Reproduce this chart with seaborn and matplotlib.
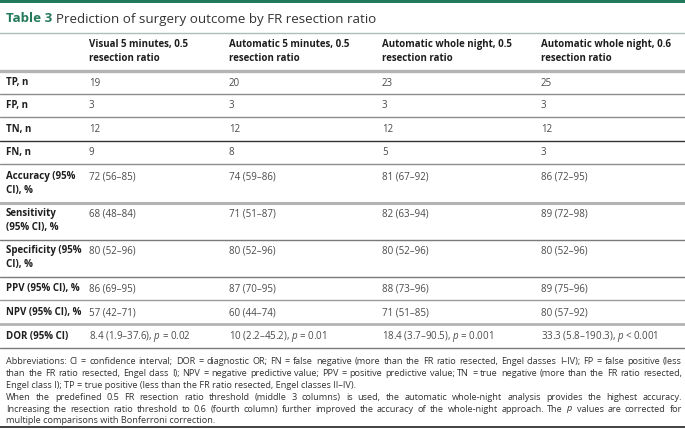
import matplotlib
matplotlib.use("Agg")
import matplotlib.pyplot as plt
import seaborn as sns

# ---------------- data ----------------
title_tag = "Table 3"
title_text = "Prediction of surgery outcome by FR resection ratio"
col_headers = [
    ["Visual 5 minutes, 0.5", "resection ratio"],
    ["Automatic 5 minutes, 0.5", "resection ratio"],
    ["Automatic whole night, 0.5", "resection ratio"],
    ["Automatic whole night, 0.6", "resection ratio"],
]
row_labels = [
    ["TP, n"], ["FP, n"], ["TN, n"], ["FN, n"],
    ["Accuracy (95%", "CI), %"],
    ["Sensitivity", "(95% CI), %"],
    ["Specificity (95%", "CI), %"],
    ["PPV (95% CI), %"], ["NPV (95% CI), %"], ["DOR (95% CI)"],
]
visual_5min_05 = ["19", "3", "12", "9", "72 (56–85)", "68 (48–84)", "80 (52–96)",
                  "86 (69–95)", "57 (42–71)", "8.4 (1.9–37.6), $p$ = 0.02"]
auto_5min_05 = ["20", "3", "12", "8", "74 (59–86)", "71 (51–87)", "80 (52–96)",
                "87 (70–95)", "60 (44–74)", "10 (2.2–45.2), $p$ = 0.01"]
auto_night_05 = ["23", "3", "12", "5", "81 (67–92)", "82 (63–94)", "80 (52–96)",
                 "88 (73–96)", "71 (51–85)", "18.4 (3.7–90.5), $p$ = 0.001"]
auto_night_06 = ["25", "3", "12", "3", "86 (72–95)", "89 (72–98)", "80 (52–96)",
                 "89 (75–96)", "80 (57–92)", "33.3 (5.8–190.3), $p$ < 0.001"]
columns = [visual_5min_05, auto_5min_05, auto_night_05, auto_night_06]

footnote_lines = [
    ("Abbreviations: CI = confidence interval; DOR = diagnostic OR; FN = false negative (more than the FR ratio resected, Engel classes I–IV); FP = false positive (less", True),
    ("than the FR ratio resected, Engel class I); NPV = negative predictive value; PPV = positive predictive value; TN = true negative (more than the FR ratio resected,", True),
    ("Engel class I); TP = true positive (less than the FR ratio resected, Engel classes II–IV).", False),
    ("When the predefined 0.5 FR resection ratio threshold (middle 3 columns) is used, the automatic whole-night analysis provides the highest accuracy.", True),
    ("Increasing the resection ratio threshold to 0.6 (fourth column) further improved the accuracy of the whole-night approach. The $p$ values are corrected for", True),
    ("multiple comparisons with Bonferroni correction.", False),
]

# ---------------- style ----------------
sns.set_theme(style="white")
plt.rcParams["font.family"] = ["Open Sans", "DejaVu Sans"]
plt.rcParams["mathtext.fontset"] = "custom"
plt.rcParams["mathtext.it"] = "Open Sans:italic"
plt.rcParams["mathtext.rm"] = "Open Sans"

GREEN = "#237a5a"
LABEL_C = "#1e1e1e"
CELL_C = "#4a4a4a"
FOOT_C = "#333333"
FS = 7.0
FS_FOOT = 6.6

W, H = 685, 431
fig = plt.figure(figsize=(W / 100, H / 100), dpi=100)
ax = fig.add_axes([0, 0, 1, 1])
ax.set_xlim(0, W)
ax.set_ylim(H, 0)
ax.axis("off")
fig.canvas.draw()
r = fig.canvas.get_renderer()


def text_width(s, fs):
    t = ax.text(10, 200, s, fontsize=fs)
    wd = t.get_window_extent(r).width
    t.remove()
    return wd


# top bar & title
ax.axhspan(0, 3.5, color=GREEN, lw=0)
t_tag = ax.text(6, 19, title_tag, fontsize=9.6, fontweight="bold", color=GREEN, va="center", ha="left")
bb = t_tag.get_window_extent(r)
ax.text(6 + bb.width + 4, 19, title_text, fontsize=9.6, color="#333333", va="center", ha="left")
ax.axhline(33.5, color="#a9bfb4", lw=1.0)

col_x = [89, 229, 382, 541]
label_x = 6
line_gap = 13.5

# headers
for cx, hdr in zip(col_x, col_headers):
    for i, s in enumerate(hdr):
        ax.text(cx, 45 + i * line_gap, s, fontsize=FS, fontweight="bold", color=LABEL_C, va="center")
ax.axhline(72, color="#b3b3b3", lw=2.4)

row_y = [83, 106, 130, 153, 177, 214, 251, 289, 313, 337]
sep_y = [95, 118, 142, 165, 204, 241, 278, 301, 325, 349]
sep_c = ["#8c8c8c", "#8c8c8c", "#333333", "#8c8c8c", "#b3b3b3", "#7a7a7a", "#7a7a7a", "#9a9a9a", "#b3b3b3", "#7a7a7a"]
sep_w = [1.0, 1.0, 1.0, 1.0, 2.2, 1.0, 1.0, 1.0, 2.0, 1.0]

for ri, (lab, y) in enumerate(zip(row_labels, row_y)):
    for i, s in enumerate(lab):
        ax.text(label_x, y + i * line_gap, s, fontsize=FS, fontweight="bold", color=LABEL_C, va="center")
    for cx, col in zip(col_x, columns):
        ax.text(cx, y, col[ri], fontsize=FS, color=CELL_C, va="center")
for y, c, w in zip(sep_y, sep_c, sep_w):
    ax.axhline(y, color=c, lw=w)

# footnotes (justified)
x_left, x_right = 6, 682
foot_y0 = 362
foot_gap = 11.8
for li, (line, justify) in enumerate(footnote_lines):
    y = foot_y0 + li * foot_gap
    if not justify:
        ax.text(x_left, y, line, fontsize=FS_FOOT, color=FOOT_C, va="center")
        continue
    words = line.split(" ")
    n = len(words)
    natural = text_width(line, FS_FOOT)
    extra = (x_right - x_left - natural) / (n - 1)
    for i, w_ in enumerate(words):
        if i == 0:
            off = 0.0
        else:
            pre = " ".join(words[:i + 1])
            off = text_width(pre, FS_FOOT) - text_width(w_, FS_FOOT)
        ax.text(x_left + off + i * extra, y, w_, fontsize=FS_FOOT, color=FOOT_C, va="center")

ax.axhline(428, color="#222222", lw=1.2)

fig.savefig("out.png", dpi=100)
